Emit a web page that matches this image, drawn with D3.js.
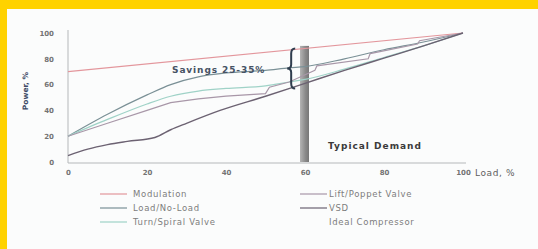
<!DOCTYPE html>
<html>
<head>
<meta charset="utf-8">
<script src="https://cdn.jsdelivr.net/npm/d3@7"></script>
<style>
body { margin: 0; background: #ffd200; }
#chart { position: absolute; left: 7px; top: 9px; width: 531px; height: 240px; background: #fbfcfc; }
svg { position: absolute; left: 0; top: 0; }
text { font-family: "DejaVu Sans", Verdana, sans-serif; }
</style>
</head>
<body>
<div id="chart"></div>
<script>
// series (load %, power %)
const modulation = [[0, 70], [100, 100]];
const loadNoLoad = [[0, 20], [10, 37], [20, 52], [26, 60], [33, 66], [40, 69], [50, 71], [56, 73], [60, 74], [70, 80], [80, 87], [90, 93], [100, 100]];
const turnSpiral = [[0, 20], [10, 33], [20, 45], [26, 51], [33, 55], [40, 57], [50, 59], [56, 62], [60, 64], [70, 72], [80, 81], [90, 90], [100, 100]];
const liftPoppet = [[0, 20], [10, 30], [20, 40], [26, 46], [33, 49], [40, 51], [50, 53], [51, 58], [56, 62], [61, 69], [62.5, 71], [63, 74.5], [76, 80], [76.5, 84], [88.5, 91.5], [89, 94], [100, 100]];
const vsd = [[0, 5], [5, 10], [10, 13.5], [15, 16], [22, 19], [26, 25], [30, 30], [38.5, 40], [50, 51], [60, 61], [70, 71], [80, 80.5], [90, 90], [100, 100]];
const ideal = [[0, 0], [100, 100]];

const seriesNames = ['Modulation', 'Load/No-Load', 'Turn/Spiral Valve', 'Lift/Poppet Valve', 'VSD', 'Ideal Compressor'];
const seriesData = [modulation, loadNoLoad, turnSpiral, liftPoppet, vsd, ideal];
const seriesColors = ['#e3969c', '#7a9096', '#9fd2c7', '#a897a8', '#6c6272', 'none'];
const seriesSmooth = [false, true, true, false, true, false];

const xTicks = [0, 20, 40, 60, 80, 100];
const yTicks = [0, 20, 40, 60, 80, 100];
const demandLoad = 60, demandTop = 90;
const savingsTop = 88, savingsBottom = 57, savingsAt = 56.5;

// page offset of the white panel is 7,9
const w = 531, h = 240;
const svg = d3.select('#chart').append('svg').attr('width', w).attr('height', h);

const x = d3.scaleLinear().domain([0, 100]).range([61, 456]);
const y = d3.scaleLinear().domain([0, 100]).range([153, 24]);

// axes
const yA = d3.axisLeft(y).tickValues(yTicks).tickSize(0).tickPadding(14);
const gy = svg.append('g').attr('transform', 'translate(' + x(0) + ',0)').call(yA);
gy.select('.domain').attr('stroke', '#b5b8ba').attr('d', 'M0,' + (y(100) - 3) + 'V' + (y(0) + 1));
gy.selectAll('text').attr('fill', '#737373').style('font-size', '7px').style('font-weight', 'bold')
  .style('font-family', '"DejaVu Sans", sans-serif');

const xA = d3.axisBottom(x).tickValues(xTicks).tickSize(0).tickPadding(7);
const gx = svg.append('g').attr('transform', 'translate(0,' + (y(0) + 1) + ')').call(xA);
gx.select('.domain').attr('stroke', '#b5b8ba').attr('d', 'M' + x(0) + ',0H' + (x(100) + 3));
gx.selectAll('text').attr('fill', '#737373').style('font-size', '7px').style('font-weight', 'bold')
  .style('font-family', '"DejaVu Sans", sans-serif');

svg.append('text').text('Load, %').attr('x', x(100) + 12).attr('y', y(0) + 14)
  .attr('fill', '#5e5e5e').style('font-size', '9px').style('letter-spacing', '0.6px');

svg.append('text').text('Power, %').attr('text-anchor', 'middle')
  .attr('transform', 'translate(21,' + (y(55)) + ') rotate(-90)')
  .attr('fill', '#3d4a66').style('font-size', '7.5px').style('font-weight', 'bold');

// typical demand bar
const bar = svg.append('defs').append('linearGradient').attr('id', 'barg');
bar.append('stop').attr('offset', '0%').attr('stop-color', '#b4b4b4');
bar.append('stop').attr('offset', '60%').attr('stop-color', '#8a8a8a');
bar.append('stop').attr('offset', '100%').attr('stop-color', '#777');
svg.append('rect').attr('x', x(demandLoad) - 5).attr('y', y(demandTop))
  .attr('width', 9).attr('height', y(0) - y(demandTop)).attr('fill', 'url(#barg)');

// lines
const line = d3.line().x(d => x(d[0])).y(d => y(d[1]));
const smoothLine = d3.line().x(d => x(d[0])).y(d => y(d[1])).curve(d3.curveMonotoneX);
svg.selectAll('path.series')
  .data(seriesData)
  .enter()
  .append('path')
  .attr('class', 'series')
  .attr('d', (d, i) => seriesSmooth[i] ? smoothLine(d) : line(d))
  .attr('fill', 'none')
  .attr('stroke', (d, i) => seriesColors[i])
  .attr('stroke-width', (d, i) => i === 4 ? 1.4 : 1.2);

// savings brace
const bx = x(savingsAt), bt = y(savingsTop), bb = y(savingsBottom), bm = (bt + bb) / 2;
svg.append('path')
  .attr('d', 'M' + (bx + 4) + ',' + bt + 'Q' + bx + ',' + bt + ' ' + bx + ',' + (bt + 5) +
    'L' + bx + ',' + (bm - 4) + 'Q' + bx + ',' + bm + ' ' + (bx - 4) + ',' + bm +
    'Q' + bx + ',' + bm + ' ' + bx + ',' + (bm + 4) +
    'L' + bx + ',' + (bb - 5) + 'Q' + bx + ',' + bb + ' ' + (bx + 4) + ',' + bb)
  .attr('fill', 'none').attr('stroke', '#2f3d4e').attr('stroke-width', 2);

svg.append('text').text('Savings 25-35%').attr('x', 165).attr('y', 64)
  .attr('fill', '#465264').style('font-size', '9px').style('font-weight', 'bold').style('letter-spacing', '0.9px');

svg.append('text').text('Typical Demand').attr('x', 321).attr('y', 140)
  .attr('fill', '#3a3a3a').style('font-size', '9px').style('font-weight', 'bold').style('letter-spacing', '1px');

// legend
const leg = svg.selectAll('g.leg')
  .data(seriesNames)
  .enter()
  .append('g')
  .attr('class', 'leg')
  .attr('transform', (d, i) => 'translate(' + (i < 3 ? 93 : 293) + ',' + (185 + (i % 3) * 14) + ')');
leg.append('line').attr('x1', 0).attr('x2', 27).attr('y1', 0).attr('y2', 0)
  .attr('stroke', (d, i) => seriesColors[i]).attr('stroke-width', 1.2);
leg.append('text').text(d => d).attr('x', (d, i) => i < 3 ? 33 : 29).attr('y', 3)
  .attr('fill', '#7d7d7d').style('font-size', '8.5px').style('letter-spacing', '0.7px');
</script>
</body>
</html>
